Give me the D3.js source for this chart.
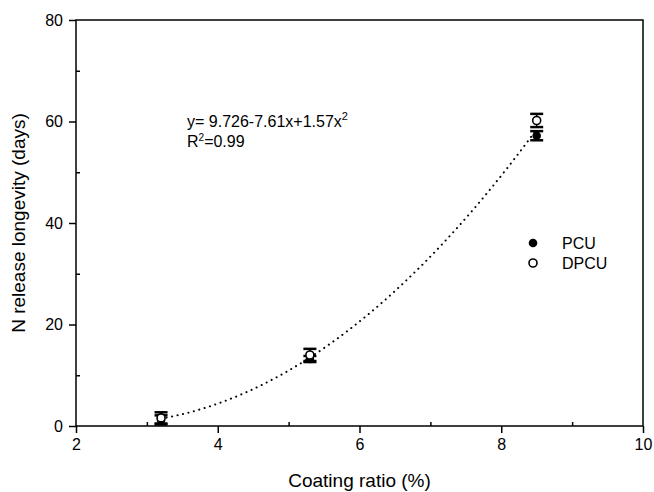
<!DOCTYPE html>
<html>
<head>
<meta charset="utf-8">
<script src="https://cdn.jsdelivr.net/npm/d3@7"></script>
<style>
  html, body { margin: 0; padding: 0; background: #fff; }
  svg text { font-family: Arial, "Liberation Sans", Helvetica, sans-serif; fill: #000; }
</style>
</head>
<body>
<svg id="chart" width="654" height="492"></svg>
<script>
// Coating ratio (%) of each fertilizer batch
const coating = [3.2, 5.3, 8.5];
// N release longevity (days) with standard errors
const pcu = [1.2, 13.2, 57.2];
const pcuErr = [0.9, 0.6, 0.9];
const dpcu = [1.6, 14.0, 60.2];
const dpcuErr = [1.1, 1.2, 1.3];
// Quadratic fit y = a + b x + c x^2
const fitCoef = [9.726, -7.61, 1.57];
const xTicks = [2, 4, 6, 8, 10];
const xMinor = [3, 5, 7, 9];
const yTicks = [0, 20, 40, 60, 80];
const yMinor = [10, 30, 50, 70];
const seriesNames = ["PCU", "DPCU"];

const svg = d3.select("#chart");
const plotL = 76, plotR = 643, plotT = 20, plotB = 426;

const x = d3.scaleLinear().domain([2, 10]).range([plotL, plotR]);
const y = d3.scaleLinear().domain([0, 80]).range([plotB, plotT]);

const fontSize = 16;

// plot frame
svg.append("rect")
  .attr("x", plotL).attr("y", plotT)
  .attr("width", plotR - plotL).attr("height", plotB - plotT)
  .attr("fill", "none").attr("stroke", "#000").attr("stroke-width", 1.5);

// bottom axis: major ticks outward, minor ticks inward
const gx = svg.append("g").attr("transform", `translate(0,${plotB})`)
  .call(d3.axisBottom(x).tickValues(xTicks).tickSize(7).tickSizeOuter(0).tickPadding(6).tickFormat(d3.format("d")));
gx.select(".domain").remove();
gx.selectAll("line").attr("stroke-width", 1.5);
gx.selectAll("text").attr("font-size", fontSize).attr("font-family", null);

const gxm = svg.append("g").attr("transform", `translate(0,${plotB})`)
  .call(d3.axisBottom(x).tickValues(xMinor).tickSize(-4).tickSizeOuter(0).tickFormat(""));
gxm.select(".domain").remove();
gxm.selectAll("line").attr("stroke-width", 1.5);

// left axis
const gy = svg.append("g").attr("transform", `translate(${plotL},0)`)
  .call(d3.axisLeft(y).tickValues(yTicks).tickSize(7).tickSizeOuter(0).tickPadding(6).tickFormat(d3.format("d")));
gy.select(".domain").remove();
gy.selectAll("line").attr("stroke-width", 1.5);
gy.selectAll("text").attr("font-size", fontSize).attr("font-family", null);

const gym = svg.append("g").attr("transform", `translate(${plotL},0)`)
  .call(d3.axisLeft(y).tickValues(yMinor).tickSize(-4).tickSizeOuter(0).tickFormat(""));
gym.select(".domain").remove();
gym.selectAll("line").attr("stroke-width", 1.5);

// axis titles
svg.append("text")
  .attr("x", (plotL + plotR) / 2).attr("y", 487)
  .attr("text-anchor", "middle").attr("font-size", 19)
  .text("Coating ratio (%)");
svg.append("text")
  .attr("transform", `translate(25,${(plotT + plotB) / 2}) rotate(-90)`)
  .attr("text-anchor", "middle").attr("font-size", 19)
  .text("N release longevity (days)");

// fitted curve, dotted, over the measured range
const fit = v => fitCoef[0] + fitCoef[1] * v + fitCoef[2] * v * v;
const xs = d3.range(coating[0], coating[coating.length - 1] + 1e-9, 0.02);
svg.append("path")
  .datum(xs)
  .attr("d", d3.line().x(d => x(d)).y(d => y(fit(d))))
  .attr("fill", "none").attr("stroke", "#000")
  .attr("stroke-width", 2).attr("stroke-linecap", "round")
  .attr("stroke-dasharray", "0.1 5.5");

// error bars
function errorBars(vals, errs) {
  const g = svg.append("g");
  const capW = 6.5;
  vals.forEach((v, i) => {
    const cx = x(coating[i]);
    g.append("line").attr("x1", cx).attr("x2", cx)
      .attr("y1", y(v - errs[i])).attr("y2", y(v + errs[i]))
      .attr("stroke", "#000").attr("stroke-width", 1.5);
    [v - errs[i], v + errs[i]].forEach(e => {
      g.append("line").attr("x1", cx - capW).attr("x2", cx + capW)
        .attr("y1", y(e)).attr("y2", y(e))
        .attr("stroke", "#000").attr("stroke-width", 2.5);
    });
  });
}
errorBars(pcu, pcuErr);
errorBars(dpcu, dpcuErr);

// markers
svg.append("g").selectAll("circle").data(pcu).join("circle")
  .attr("cx", (d, i) => x(coating[i])).attr("cy", d => y(d))
  .attr("r", 4.3).attr("fill", "#000");
svg.append("g").selectAll("circle").data(dpcu).join("circle")
  .attr("cx", (d, i) => x(coating[i])).attr("cy", d => y(d))
  .attr("r", 4).attr("fill", "#fff").attr("stroke", "#000").attr("stroke-width", 1.6);

// regression equation
const eq = svg.append("text").attr("x", 187).attr("y", 127).attr("font-size", fontSize);
eq.append("tspan").text(`y= ${fitCoef[0]}${fitCoef[1]}x+${fitCoef[2]}x`);
eq.append("tspan").attr("dy", -7).attr("font-size", 11).text("2");
const r2 = svg.append("text").attr("x", 187).attr("y", 147).attr("font-size", fontSize);
r2.append("tspan").text("R");
r2.append("tspan").attr("dy", -6).attr("font-size", 10).text("2");
r2.append("tspan").attr("dy", 6).text("=0.99");

// legend
const legend = svg.append("g");
seriesNames.forEach((name, i) => {
  const ly = 243 + i * 20;
  const c = legend.append("circle").attr("cx", 533).attr("cy", ly);
  if (i === 0) c.attr("r", 4.3).attr("fill", "#000");
  else c.attr("r", 4).attr("fill", "#fff").attr("stroke", "#000").attr("stroke-width", 1.6);
  legend.append("text").attr("x", 562).attr("y", ly + 6)
    .attr("font-size", fontSize).text(name);
});
</script>
</body>
</html>
